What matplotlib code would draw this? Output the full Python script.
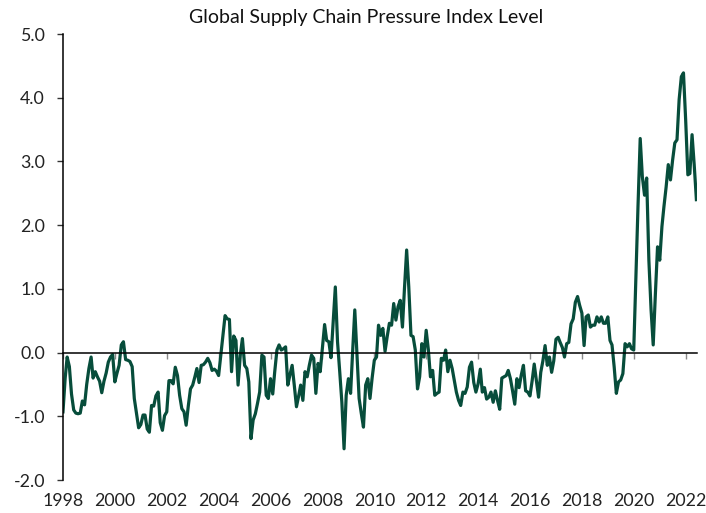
import matplotlib
matplotlib.use("Agg")
import matplotlib.pyplot as plt
import matplotlib.dates as mdates
import pandas as pd

# GSCPI monthly level (Jan 1998 - Jun 2022)
gscpi_1998_2001 = [-0.93, -0.40, -0.07, -0.22, -0.65, -0.90, -0.95, -0.96, -0.95, -0.76, -0.82, -0.50,
                   -0.25, -0.07, -0.40, -0.30, -0.38, -0.45, -0.63, -0.45, -0.32, -0.15, -0.07, -0.03,
                   -0.46, -0.32, -0.20, 0.12, 0.17, -0.11, -0.12, -0.14, -0.22, -0.72, -0.95, -1.18,
                   -1.13, -0.98, -0.98, -1.20, -1.25, -0.83, -0.84, -0.68, -0.62, -1.10, -1.22, -0.99]
gscpi_2002_2005 = [-0.93, -0.44, -0.44, -0.49, -0.23, -0.36, -0.67, -0.88, -0.93, -1.14, -0.83, -0.57,
                   -0.51, -0.38, -0.25, -0.47, -0.20, -0.19, -0.15, -0.09, -0.16, -0.28, -0.26, -0.29,
                   -0.36, -0.04, 0.25, 0.58, 0.53, 0.52, -0.30, 0.26, 0.19, -0.51, -0.04, 0.22,
                   -0.20, -0.25, -0.46, -1.35, -1.06, -0.96, -0.80, -0.62, -0.04, -0.07, -0.67, -0.72]
gscpi_2006_2009 = [-0.41, -0.65, -0.30, 0.04, 0.12, 0.04, 0.06, 0.09, -0.51, -0.35, -0.20, -0.51,
                   -0.85, -0.68, -0.51, -0.75, -0.30, -0.38, -0.20, -0.04, -0.09, -0.64, -0.17, -0.30,
                   0.07, 0.44, 0.19, 0.17, -0.08, 0.47, 1.03, 0.17, -0.30, -0.78, -1.51, -0.67,
                   -0.41, -0.64, 0.00, 0.67, 0.00, -0.72, -0.95, -1.17, -0.51, -0.41, -0.72, -0.40]
gscpi_2010_2013 = [-0.12, -0.07, 0.43, 0.27, 0.38, 0.02, 0.25, 0.46, 0.43, 0.77, 0.51, 0.72,
                   0.82, 0.40, 1.00, 1.61, 1.03, 0.27, 0.25, 0.04, -0.57, -0.38, 0.14, -0.07,
                   0.35, 0.04, -0.38, -0.28, -0.67, -0.64, -0.62, -0.09, -0.12, 0.04, -0.30, -0.12,
                   -0.25, -0.44, -0.62, -0.75, -0.83, -0.62, -0.64, -0.54, -0.23, -0.15, -0.47, -0.62]
gscpi_2014_2017 = [-0.49, -0.26, -0.62, -0.55, -0.73, -0.70, -0.62, -0.78, -0.60, -0.75, -0.89, -0.40,
                   -0.38, -0.36, -0.28, -0.41, -0.60, -0.81, -0.41, -0.55, -0.35, -0.20, -0.60, -0.62,
                   -0.68, -0.44, -0.18, -0.44, -0.70, -0.31, -0.13, 0.11, -0.20, -0.07, -0.31, -0.13,
                   0.21, 0.24, 0.16, 0.08, -0.07, 0.14, 0.16, 0.45, 0.53, 0.79, 0.88, 0.74]
gscpi_2018_2019 = [0.62, 0.11, 0.56, 0.59, 0.40, 0.43, 0.43, 0.56, 0.48, 0.56, 0.46, 0.46,
                   0.56, 0.19, 0.12, -0.23, -0.64, -0.46, -0.43, -0.33, 0.14, 0.09, 0.14, 0.06]
gscpi_2020_2022 = [0.04, 1.20, 2.30, 3.36, 2.76, 2.47, 2.74, 1.45, 0.67, 0.12, 0.93, 1.66,
                   1.45, 1.98, 2.29, 2.60, 2.95, 2.71, 3.02, 3.29, 3.34, 3.97, 4.33, 4.39,
                   3.65, 2.79, 2.81, 3.42, 2.95, 2.40]

values = (gscpi_1998_2001 + gscpi_2002_2005 + gscpi_2006_2009 + gscpi_2010_2013
          + gscpi_2014_2017 + gscpi_2018_2019 + gscpi_2020_2022)
dates = pd.date_range("1998-01-01", periods=len(values), freq="MS")

title = "Global Supply Chain Pressure Index Level"
line_color = "#074d3b"
font = "Lato"

fig = plt.figure(figsize=(7.06, 5.13), dpi=100)
ax = fig.add_axes([0.0892, 0.0643, 0.898, 0.8694])

ax.plot(dates, values, color=line_color, lw=2.3, solid_joinstyle="round")

ax.set_ylim(-2, 5)
ax.set_xlim(dates[0], dates[-1] + pd.Timedelta(days=8))
ax.set_yticks(range(-2, 6))
ax.yaxis.set_major_formatter(plt.FormatStrFormatter("%.1f"))

ax.xaxis.set_major_locator(mdates.YearLocator(2))
ax.xaxis.set_major_formatter(mdates.DateFormatter("%Y"))

# x axis sits on the zero line, labels pushed down under the plot
ax.spines["bottom"].set_position(("data", 0))
ax.spines["top"].set_visible(False)
ax.spines["right"].set_visible(False)
ax.spines["bottom"].set_linewidth(1.1)
ax.spines["left"].set_linewidth(1.1)

ax.tick_params(axis="x", direction="out", length=4, width=1, color="#888888",
               pad=97, labelsize=12.8, labelcolor="#222222")
ax.tick_params(axis="y", direction="out", length=4, width=1, color="#333333",
               pad=9, labelsize=12.8, labelcolor="#222222")
for lab in ax.get_xticklabels() + ax.get_yticklabels():
    lab.set_fontfamily(font)

fig.text(0.518, 0.966, title, ha="center", va="center", fontsize=14,
         family=font, color="#111111")

fig.savefig("out.png", dpi=100)
